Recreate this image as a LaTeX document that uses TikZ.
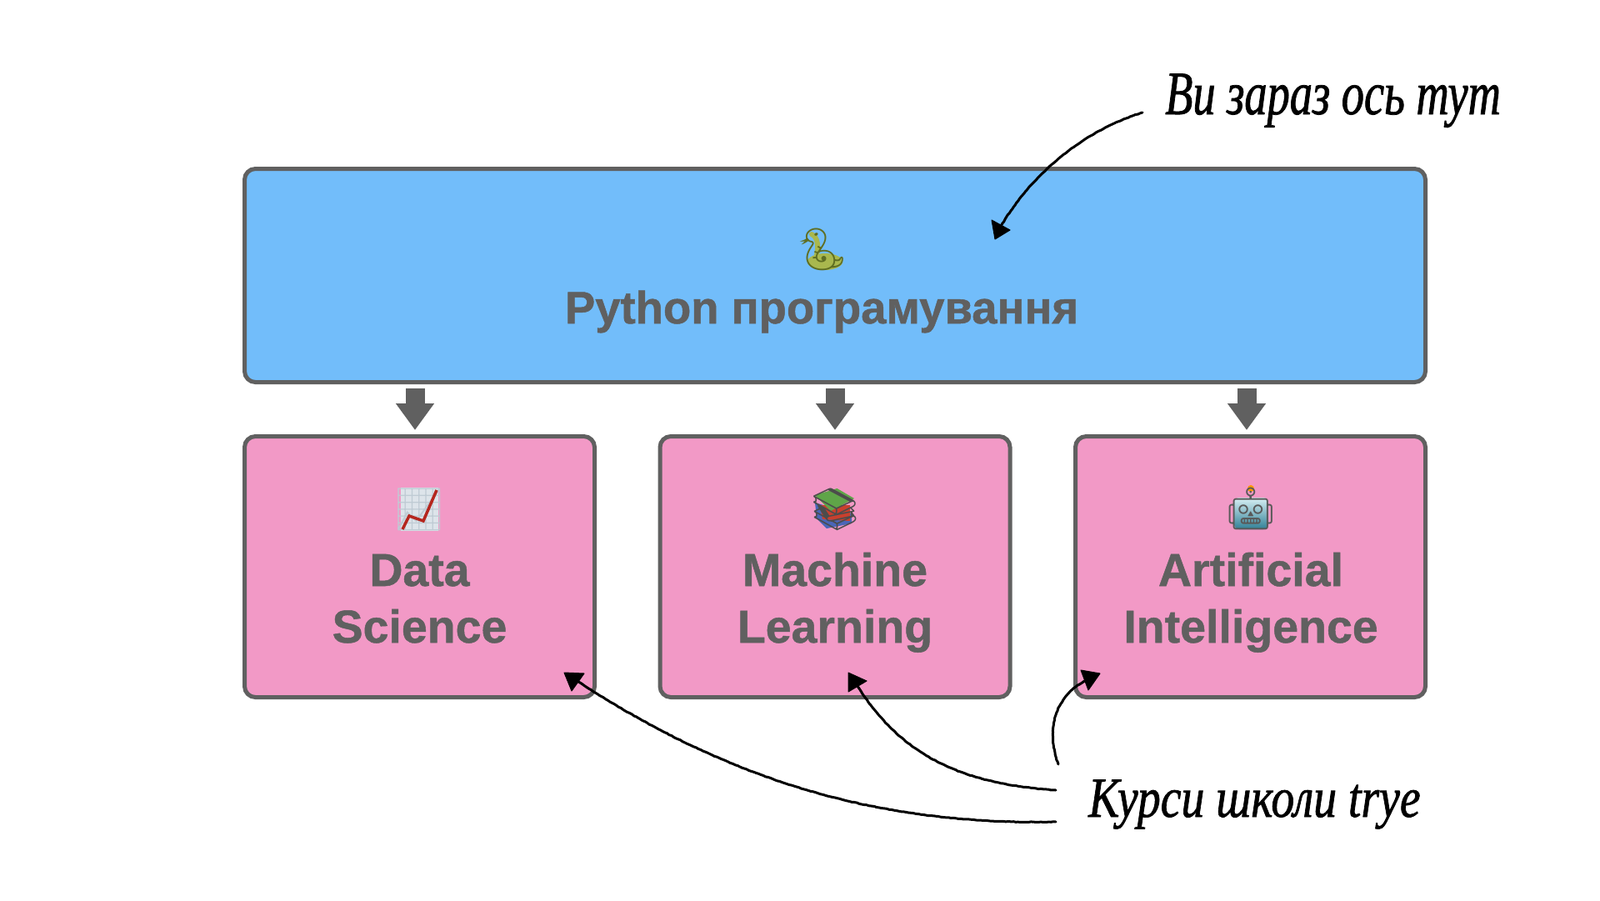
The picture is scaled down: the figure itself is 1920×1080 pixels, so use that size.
\documentclass[tikz,border=0pt]{standalone}
\usepackage{fontspec}
\usetikzlibrary{arrows.meta,calc,decorations.pathmorphing}
\setmainfont[BoldFeatures={FakeBold=0.9}]{Liberation Sans}
\newfontfamily\handfonta[FakeStretch=0.735,FakeBold=1]{Liberation Serif Italic}
\newfontfamily\handfontb[FakeStretch=0.82,FakeBold=1]{Liberation Serif Italic}
\newfontfamily\emojifont{Noto Emoji}
\definecolor{edgegray}{HTML}{606060}
\definecolor{bluefill}{HTML}{72BDFA}
\definecolor{pinkfill}{HTML}{F299C6}
\definecolor{snakegreen}{HTML}{A9B84E}
\definecolor{snakedark}{HTML}{5F6E22}
\definecolor{chartbg}{HTML}{DDE4EA}
\definecolor{chartgrid}{HTML}{BFCBD4}
\definecolor{chartred}{HTML}{B5261E}
\definecolor{robottop}{HTML}{D8F0F4}
\definecolor{robotbot}{HTML}{2F7F96}
\definecolor{bookgreen}{HTML}{5FA548}
\definecolor{bookred}{HTML}{C8402E}
\definecolor{bookblue}{HTML}{4A66B8}
\tikzset{
  box/.style={draw=edgegray,line width=5pt,rounded corners=13pt,inner sep=0pt,outer sep=0pt},
  toplevel/.style={box,fill=bluefill,minimum width=1417pt,minimum height=256pt},
  course/.style={box,fill=pinkfill,minimum width=420pt,minimum height=313pt},
  title/.style={inner sep=0pt,anchor=base,text=edgegray,font=\fontsize{54.5}{64}\selectfont\bfseries},
  subtitle/.style={inner sep=0pt,anchor=base,text=edgegray,font=\fontsize{55.5}{64}\selectfont\bfseries},
  handtext/.style={inner sep=0pt,anchor=base west,text=black},
  emoji/.style={inner sep=0pt,font=\fontsize{50}{50}\selectfont\emojifont},
  blockarrow/.style={draw=edgegray,line width=23pt,-{Triangle[length=32pt,width=44pt,fill=edgegray]}},
  handarrow/.style={draw=black,line width=3pt,line cap=round,line join=round,decorate,decoration={random steps,segment length=3pt,amplitude=0.35pt}},
  handhead/.style={fill=black,draw=black,line width=1pt,line join=round},
}
\begin{document}
\begin{tikzpicture}[x=1pt,y=-1pt]
\useasboundingbox (0,0) rectangle (1920,1080);
\fill[white] (0,0) rectangle (1920,1080);

\node[toplevel] (python) at (1002,330.5) {};
\node[course] (ds) at (503.5,680) {};
\node[course] (ml) at (1002,680) {};
\node[course] (ai) at (1500.5,680) {};

% emoji colouring beneath the glyphs
\fill[snakegreen] (990,314) ellipse (21 and 10);
\draw[snakegreen,line width=6pt,line cap=round] (974,281) .. controls (982,285) and (982,296) .. (980,306);
\fill[chartbg] (481,585) rectangle (526,637);
\fill[bookblue] (978,603) -- (1022,616) -- (1022,628) -- (992,634) -- (980,622) -- cycle;
\fill[bookred] (984,606) -- (1020,606) -- (1020,625) -- (987,623) -- cycle;
\fill[bookgreen] (978,594) -- (1004.5,586) -- (1025,598) -- (997,613) -- cycle;
\shade[top color=robottop,bottom color=robotbot,rounded corners=6pt] (1481,597) rectangle (1522,635);
\fill[orange!80!yellow] (1501,586) circle (4);

\node[emoji,text=snakedark] (snake) at (986,299) {\symbol{"1F40D}};
\node[emoji,text=chartgrid] (chart) at (503.5,611) {\symbol{"1F4C8}};
\node[emoji,text=black!70] (books) at (1002,611) {\symbol{"1F4DA}};
\node[emoji,text=black!65] (robot) at (1501,610) {\symbol{"1F916}};
\draw[chartred,line width=3.5pt,line join=miter] (483,635) -- (491,619) -- (508,625) -- (524,588);

\node[title] (pylabel) at (986,388) {Python програмування};
\node[subtitle] (ds1) at (503.5,703) {Data};
\node[subtitle] (ds2) at (503.5,771) {Science};
\node[subtitle] (ml1) at (1002,703) {Machine};
\node[subtitle] (ml2) at (1002,771) {Learning};
\node[subtitle] (ai1) at (1501,703) {Artificial};
\node[subtitle] (ai2) at (1501,771) {Intelligence};

\coordinate (a1s) at (498,466); \coordinate (a1e) at (498,516);
\coordinate (a2s) at (1002,466); \coordinate (a2e) at (1002,516);
\coordinate (a3s) at (1496,466); \coordinate (a3e) at (1496,516);
\draw[blockarrow] (a1s) -- (a1e);
\draw[blockarrow] (a2s) -- (a2e);
\draw[blockarrow] (a3s) -- (a3e);

\node[handtext,font=\fontsize{74}{74}\selectfont\handfonta] (here) at (1398,137) {Ви зараз ось тут};
\node[handtext,font=\fontsize{68}{68}\selectfont\handfontb] (courses) at (1306,980) {Курси школи trye};

% hand-drawn arrows
\coordinate (h1s) at (1371,135);
\coordinate (h1e) at (1199,275);
\coordinate (h2s) at (1267,986);
\coordinate (h2e) at (691,816);
\coordinate (h3s) at (1267,948);
\coordinate (h3e) at (1027,820);
\coordinate (h4s) at (1270,917);
\coordinate (h4e) at (1305,815);

\draw[handarrow] (h1s) .. controls (1290,160) and (1230,220) .. (h1e);
\fill[handhead] (1190,264) -- (1212,276) -- (1194,287) -- cycle;

\draw[handarrow] (h2s) .. controls (1060,990) and (880,940) .. (h2e);
\fill[handhead] (677,807) -- (701,808) -- (686,829) -- cycle;

\draw[handarrow] (h3s) .. controls (1150,940) and (1080,905) .. (h3e);
\fill[handhead] (1018,807) -- (1040,817) -- (1018,830) -- cycle;

\draw[handarrow] (h4s) .. controls (1258,885) and (1258,840) .. (h4e);
\fill[handhead] (1297,804) -- (1320,808) -- (1306,828) -- cycle;
\end{tikzpicture}
\end{document}
